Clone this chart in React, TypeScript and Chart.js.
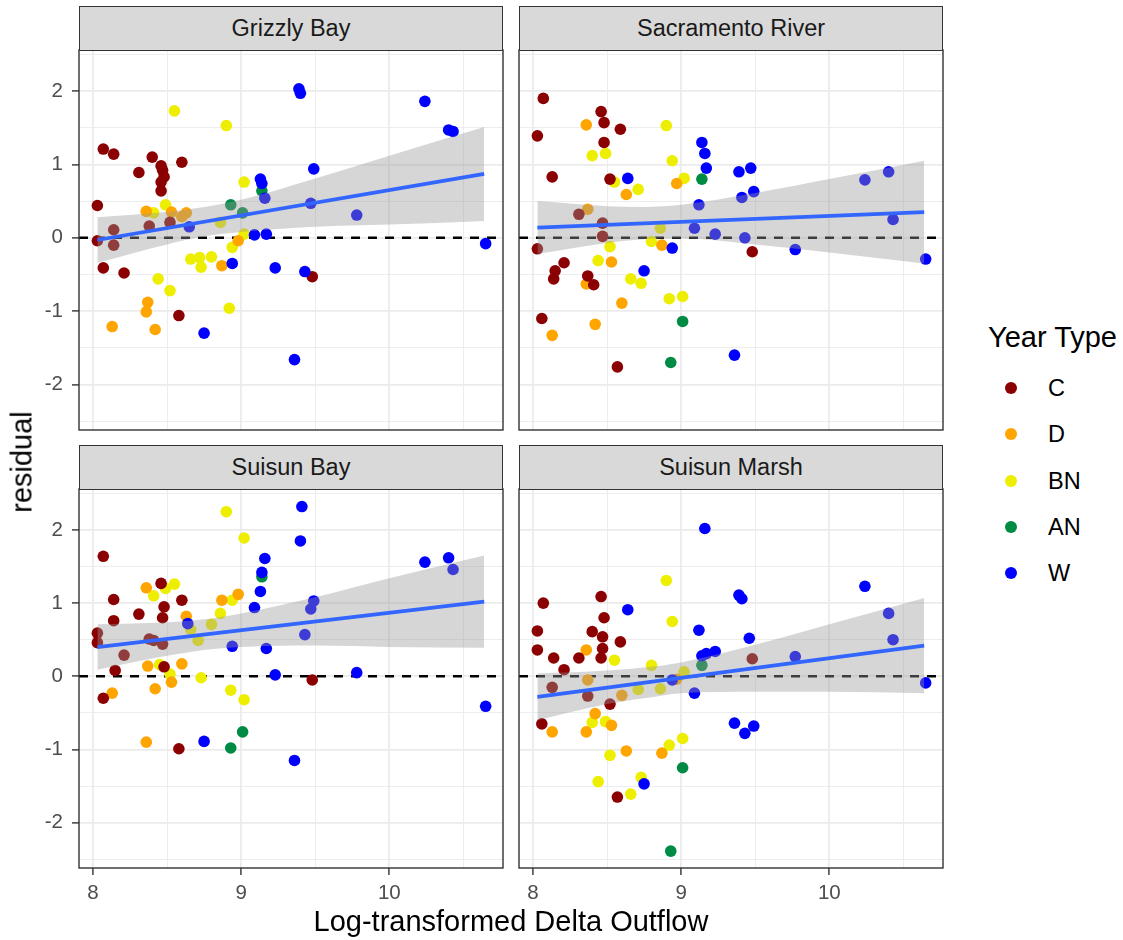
import React, { useEffect, useRef } from "react";
import { Chart, registerables } from "chart.js";

Chart.register(...registerables);

type YearType = "C" | "D" | "BN" | "AN" | "W";
type Obs = [number, number, YearType];

// Water-year types and their colours
const yearTypes: YearType[] = ["C", "D", "BN", "AN", "W"];
const yearTypeColors: string[] = ["#8B0000", "#FFA500", "#EEEE00", "#008B45", "#0000FF"];

// Facet titles
const regions: string[] = ["Grizzly Bay", "Sacramento River", "Suisun Bay", "Suisun Marsh"];

// Residuals by region: [log delta outflow, residual, year type]
const grizzlyBay: Obs[] = [
  [8.03, 0.44, "C"], [8.03, -0.04, "C"], [8.07, 1.21, "C"], [8.14, 1.14, "C"], [8.07, -0.41, "C"],
  [8.21, -0.48, "C"], [8.14, 0.11, "C"], [8.14, -0.1, "C"], [8.31, 0.89, "C"], [8.4, 1.1, "C"],
  [8.46, 0.98, "C"], [8.47, 0.92, "C"], [8.48, 0.83, "C"], [8.46, 0.76, "C"], [8.46, 0.64, "C"],
  [8.6, 1.03, "C"], [8.38, 0.16, "C"], [8.52, 0.21, "C"], [8.58, -1.06, "C"], [9.48, -0.53, "C"],
  [8.36, 0.36, "D"], [8.53, 0.35, "D"], [8.6, 0.29, "D"], [8.63, 0.34, "D"], [8.98, -0.04, "D"],
  [8.87, -0.38, "D"], [8.37, -0.88, "D"], [8.36, -1.01, "D"], [8.13, -1.21, "D"], [8.42, -1.25, "D"],
  [8.41, 0.34, "BN"], [8.49, 0.45, "BN"], [8.55, 1.73, "BN"], [8.9, 1.53, "BN"], [9.02, 0.76, "BN"],
  [8.86, 0.21, "BN"], [8.94, -0.13, "BN"], [9.02, 0.05, "BN"], [8.66, -0.29, "BN"], [8.72, -0.27, "BN"],
  [8.73, -0.4, "BN"], [8.8, -0.26, "BN"], [8.44, -0.56, "BN"], [8.52, -0.72, "BN"], [8.92, -0.96, "BN"],
  [8.93, 0.45, "AN"], [9.01, 0.34, "AN"], [9.14, 0.64, "AN"],
  [8.75, -1.3, "W"], [8.65, 0.15, "W"], [8.94, -0.35, "W"], [9.13, 0.8, "W"], [9.14, 0.74, "W"],
  [9.16, 0.54, "W"], [9.09, 0.04, "W"], [9.17, 0.05, "W"], [9.23, -0.41, "W"], [9.39, 2.03, "W"],
  [9.4, 1.97, "W"], [9.36, -1.66, "W"], [9.43, -0.46, "W"], [9.49, 0.94, "W"], [9.47, 0.47, "W"],
  [9.78, 0.31, "W"], [10.24, 1.86, "W"], [10.4, 1.47, "W"], [10.43, 1.45, "W"], [10.65, -0.08, "W"],
];

const sacramentoRiver: Obs[] = [
  [8.07, 1.9, "C"], [8.03, 1.39, "C"], [8.13, 0.83, "C"], [8.46, 1.72, "C"], [8.48, 1.57, "C"],
  [8.59, 1.48, "C"], [8.48, 1.3, "C"], [8.52, 0.8, "C"], [8.31, 0.32, "C"], [8.47, 0.2, "C"],
  [8.47, 0.02, "C"], [8.03, -0.15, "C"], [8.21, -0.34, "C"], [8.15, -0.45, "C"], [8.14, -0.56, "C"],
  [8.37, -0.52, "C"], [8.41, -0.64, "C"], [8.06, -1.1, "C"], [8.57, -1.76, "C"], [9.48, -0.19, "C"],
  [8.36, 1.54, "D"], [8.63, 0.59, "D"], [8.97, 0.74, "D"], [8.37, 0.39, "D"], [8.87, -0.1, "D"],
  [8.53, -0.33, "D"], [8.36, -0.63, "D"], [8.6, -0.89, "D"], [8.42, -1.18, "D"], [8.13, -1.33, "D"],
  [8.9, 1.53, "BN"], [8.4, 1.12, "BN"], [8.49, 1.15, "BN"], [8.94, 1.05, "BN"], [8.55, 0.76, "BN"],
  [8.71, 0.66, "BN"], [9.02, 0.81, "BN"], [8.86, 0.13, "BN"], [8.8, -0.05, "BN"], [8.52, -0.12, "BN"],
  [8.44, -0.31, "BN"], [8.66, -0.56, "BN"], [8.73, -0.62, "BN"], [8.92, -0.83, "BN"], [9.01, -0.8, "BN"],
  [9.14, 0.8, "AN"], [9.01, -1.14, "AN"], [8.93, -1.7, "AN"],
  [8.64, 0.81, "W"], [9.14, 1.3, "W"], [9.16, 1.15, "W"], [9.17, 0.95, "W"], [9.12, 0.45, "W"],
  [9.09, 0.13, "W"], [9.23, 0.05, "W"], [8.94, -0.14, "W"], [8.75, -0.45, "W"], [9.39, 0.9, "W"],
  [9.47, 0.95, "W"], [9.41, 0.55, "W"], [9.49, 0.63, "W"], [9.43, 0.0, "W"], [9.77, -0.16, "W"],
  [10.24, 0.79, "W"], [10.4, 0.9, "W"], [10.43, 0.25, "W"], [10.65, -0.29, "W"], [9.36, -1.6, "W"],
];

const suisunBay: Obs[] = [
  [8.03, 0.59, "C"], [8.03, 0.46, "C"], [8.07, 1.64, "C"], [8.14, 1.05, "C"], [8.14, 0.76, "C"],
  [8.31, 0.85, "C"], [8.46, 1.27, "C"], [8.48, 0.95, "C"], [8.47, 0.8, "C"], [8.6, 1.04, "C"],
  [8.21, 0.29, "C"], [8.38, 0.51, "C"], [8.41, 0.49, "C"], [8.47, 0.44, "C"], [8.15, 0.08, "C"],
  [8.48, 0.13, "C"], [8.07, -0.3, "C"], [8.58, -0.99, "C"], [9.48, -0.05, "C"],
  [8.36, 1.21, "D"], [8.63, 0.82, "D"], [8.87, 1.04, "D"], [8.98, 1.12, "D"], [8.37, 0.14, "D"],
  [8.6, 0.17, "D"], [8.53, -0.08, "D"], [8.42, -0.17, "D"], [8.13, -0.23, "D"], [8.36, -0.9, "D"],
  [8.9, 2.25, "BN"], [9.02, 1.89, "BN"], [8.41, 1.1, "BN"], [8.49, 1.2, "BN"], [8.55, 1.26, "BN"],
  [8.94, 1.04, "BN"], [8.86, 0.86, "BN"], [8.8, 0.71, "BN"], [8.66, 0.64, "BN"], [8.71, 0.49, "BN"],
  [8.45, 0.16, "BN"], [8.52, 0.03, "BN"], [8.73, -0.02, "BN"], [8.93, -0.19, "BN"], [9.02, -0.32, "BN"],
  [9.14, 1.36, "AN"], [9.01, -0.76, "AN"], [8.93, -0.98, "AN"],
  [9.16, 1.61, "W"], [9.14, 1.42, "W"], [9.13, 1.16, "W"], [9.09, 0.94, "W"], [8.64, 0.72, "W"],
  [8.94, 0.41, "W"], [9.17, 0.38, "W"], [9.23, 0.02, "W"], [8.75, -0.89, "W"], [9.36, -1.15, "W"],
  [9.41, 2.32, "W"], [9.4, 1.85, "W"], [9.49, 1.03, "W"], [9.47, 0.92, "W"], [9.43, 0.57, "W"],
  [9.78, 0.05, "W"], [10.24, 1.56, "W"], [10.4, 1.62, "W"], [10.43, 1.46, "W"], [10.65, -0.41, "W"],
];

const suisunMarsh: Obs[] = [
  [8.07, 1.0, "C"], [8.03, 0.62, "C"], [8.03, 0.36, "C"], [8.14, 0.25, "C"], [8.21, 0.09, "C"],
  [8.31, 0.25, "C"], [8.4, 0.61, "C"], [8.46, 1.09, "C"], [8.48, 0.8, "C"], [8.47, 0.54, "C"],
  [8.47, 0.38, "C"], [8.46, 0.25, "C"], [8.59, 0.47, "C"], [8.13, -0.15, "C"], [8.37, -0.27, "C"],
  [8.52, -0.38, "C"], [8.06, -0.65, "C"], [8.57, -1.65, "C"], [9.48, 0.24, "C"],
  [8.36, 0.36, "D"], [8.37, -0.05, "D"], [8.6, -0.26, "D"], [8.42, -0.51, "D"], [8.53, -0.67, "D"],
  [8.36, -0.76, "D"], [8.13, -0.76, "D"], [8.63, -1.02, "D"], [8.87, -1.05, "D"], [8.97, -0.04, "D"],
  [8.9, 1.31, "BN"], [8.94, 0.75, "BN"], [8.55, 0.22, "BN"], [8.8, 0.15, "BN"], [9.02, 0.06, "BN"],
  [8.71, -0.18, "BN"], [8.86, -0.17, "BN"], [8.4, -0.63, "BN"], [8.49, -0.62, "BN"], [9.01, -0.85, "BN"],
  [8.92, -0.94, "BN"], [8.52, -1.08, "BN"], [8.44, -1.44, "BN"], [8.73, -1.38, "BN"], [8.66, -1.61, "BN"],
  [9.14, 0.15, "AN"], [9.01, -1.25, "AN"], [8.93, -2.39, "AN"],
  [8.64, 0.91, "W"], [9.16, 2.02, "W"], [9.12, 0.63, "W"], [9.14, 0.28, "W"], [9.17, 0.31, "W"],
  [9.23, 0.34, "W"], [8.94, -0.05, "W"], [9.09, -0.23, "W"], [8.75, -1.47, "W"], [9.39, 1.11, "W"],
  [9.41, 1.06, "W"], [9.46, 0.52, "W"], [9.36, -0.64, "W"], [9.43, -0.78, "W"], [9.49, -0.68, "W"],
  [9.77, 0.27, "W"], [10.24, 1.23, "W"], [10.4, 0.86, "W"], [10.43, 0.5, "W"], [10.65, -0.09, "W"],
];

// Linear fits (end points) and their confidence bands
const fitX: number[] = [8.03, 10.64];
const grizzlyFit: number[] = [-0.03, 0.87];
const sacramentoFit: number[] = [0.14, 0.35];
const suisunBayFit: number[] = [0.4, 1.02];
const suisunMarshFit: number[] = [-0.28, 0.42];

const bandX: number[] = [8.03, 8.5, 8.75, 9.0, 9.5, 10.0, 10.64];
const grizzlyUpper: number[] = [0.28, 0.35, 0.42, 0.52, 0.81, 1.12, 1.51];
const grizzlyLower: number[] = [-0.34, -0.09, 0.02, 0.08, 0.15, 0.18, 0.23];
const sacramentoUpper: number[] = [0.5, 0.43, 0.42, 0.45, 0.61, 0.8, 1.05];
const sacramentoLower: number[] = [-0.22, -0.07, -0.02, -0.01, -0.09, -0.2, -0.35];
const suisunBayUpper: number[] = [0.71, 0.74, 0.78, 0.86, 1.08, 1.34, 1.65];
const suisunBayLower: number[] = [0.09, 0.28, 0.36, 0.4, 0.42, 0.4, 0.39];
const suisunMarshUpper: number[] = [0.04, 0.08, 0.12, 0.19, 0.43, 0.71, 1.07];
const suisunMarshLower: number[] = [-0.6, -0.38, -0.3, -0.23, -0.21, -0.21, -0.23];

// Axis grid positions (major at whole numbers, minor halfway)
const xGridValues: number[] = [8, 8.5, 9, 9.5, 10, 10.5];
const yGridValues: number[] = [-2.5, -2, -1.5, -1, -0.5, 0, 0.5, 1, 1.5, 2, 2.5];
const X_MIN = 7.906;
const X_MAX = 10.767;
const Y_MIN = -2.62;
const Y_MAX = 2.56;

const FONT = "'Liberation Sans', Arial, Helvetica, sans-serif";

interface PanelSpec {
  title: string;
  obs: Obs[];
  fit: number[];
  upper: number[];
  lower: number[];
  showX: boolean;
  showY: boolean;
  left: number;
  top: number;
  width: number;
  height: number;
}

const Y_AXIS_W = 79;
const X_AXIS_H = 45;

const panels: PanelSpec[] = [
  { title: regions[0], obs: grizzlyBay, fit: grizzlyFit, upper: grizzlyUpper, lower: grizzlyLower,
    showX: false, showY: true, left: 0, top: 48, width: 505, height: 384 },
  { title: regions[1], obs: sacramentoRiver, fit: sacramentoFit, upper: sacramentoUpper, lower: sacramentoLower,
    showX: false, showY: false, left: 517, top: 48, width: 428, height: 384 },
  { title: regions[2], obs: suisunBay, fit: suisunBayFit, upper: suisunBayUpper, lower: suisunBayLower,
    showX: true, showY: true, left: 0, top: 487, width: 505, height: 426 },
  { title: regions[3], obs: suisunMarsh, fit: suisunMarshFit, upper: suisunMarshUpper, lower: suisunMarshLower,
    showX: true, showY: false, left: 517, top: 487, width: 428, height: 426 },
];

const panelFrame = {
  id: "panelFrame",
  afterDatasetsDraw(chart: any) {
    const { ctx, chartArea: a } = chart;
    ctx.save();
    ctx.strokeStyle = "#333333";
    ctx.lineWidth = 1.4;
    ctx.strokeRect(a.left, a.top, a.right - a.left, a.bottom - a.top);
    ctx.restore();
  },
};

const isMajor = (c: any) => !!c.tick && Number.isInteger(c.tick.value);

function gridOptions(showTicks: boolean) {
  return {
    color: "#EBEBEB",
    lineWidth: (c: any) => (isMajor(c) ? 1.8 : 0.9),
    drawTicks: showTicks,
    tickLength: 7,
    tickWidth: 1.4,
    tickColor: (c: any) => (isMajor(c) ? "#333333" : "rgba(0,0,0,0)"),
  };
}

function buildConfig(p: PanelSpec): any {
  const pointSets = [4, 0, 1, 2, 3].map((ti) => ({
    label: yearTypes[ti],
    data: p.obs.filter((o) => o[2] === yearTypes[ti]).map((o) => ({ x: o[0], y: o[1] })),
    showLine: false,
    pointRadius: 5.8,
    pointHoverRadius: 5.8,
    pointBorderWidth: 0,
    pointBackgroundColor: yearTypeColors[ti],
    backgroundColor: yearTypeColors[ti],
    borderWidth: 0,
  }));

  const lineBase = { showLine: true, pointRadius: 0, pointHoverRadius: 0 };

  return {
    type: "scatter",
    data: {
      datasets: [
        {
          ...lineBase,
          label: "fit",
          data: fitX.map((x, i) => ({ x, y: p.fit[i] })),
          borderColor: "#3366FF",
          borderWidth: 3.8,
          borderCapStyle: "butt",
        },
        {
          ...lineBase,
          label: "upper",
          data: bandX.map((x, i) => ({ x, y: p.upper[i] })),
          borderWidth: 0,
          borderColor: "rgba(0,0,0,0)",
          backgroundColor: "rgba(153,153,153,0.4)",
          fill: "+1",
          cubicInterpolationMode: "monotone",
        },
        {
          ...lineBase,
          label: "lower",
          data: bandX.map((x, i) => ({ x, y: p.lower[i] })),
          borderWidth: 0,
          borderColor: "rgba(0,0,0,0)",
          fill: false,
          cubicInterpolationMode: "monotone",
        },
        ...pointSets,
        {
          ...lineBase,
          label: "zero",
          data: [{ x: X_MIN, y: 0 }, { x: X_MAX, y: 0 }],
          borderColor: "#000000",
          borderWidth: 2.6,
          borderDash: [9, 8],
        },
      ],
    },
    options: {
      responsive: false,
      animation: false,
      events: [],
      layout: {
        autoPadding: false,
        padding: { top: 2, right: 2, bottom: p.showX ? 0 : 2, left: p.showY ? 0 : 2 },
      },
      plugins: { legend: { display: false }, tooltip: { enabled: false } },
      scales: {
        x: {
          type: "linear",
          min: X_MIN,
          max: X_MAX,
          afterBuildTicks: (s: any) => {
            s.ticks = xGridValues.map((v) => ({ value: v }));
          },
          afterFit: (s: any) => {
            s.height = p.showX ? X_AXIS_H : 0;
            s.paddingLeft = 0; s.paddingRight = 0; s.paddingTop = 0; s.paddingBottom = 0;
          },
          grid: gridOptions(p.showX),
          border: { display: false },
          ticks: {
            display: p.showX,
            autoSkip: false,
            maxRotation: 0,
            padding: 6,
            color: "#4D4D4D",
            font: { family: FONT, size: 20.5 },
            callback: (v: number) => (Number.isInteger(v) ? String(v) : ""),
          },
        },
        y: {
          type: "linear",
          min: Y_MIN,
          max: Y_MAX,
          afterBuildTicks: (s: any) => {
            s.ticks = yGridValues.map((v) => ({ value: v }));
          },
          afterFit: (s: any) => {
            s.width = p.showY ? Y_AXIS_W : 0;
            s.paddingLeft = 0; s.paddingRight = 0; s.paddingTop = 0; s.paddingBottom = 0;
          },
          grid: gridOptions(p.showY),
          border: { display: false },
          ticks: {
            display: p.showY,
            autoSkip: false,
            padding: 9,
            color: "#4D4D4D",
            font: { family: FONT, size: 20.5 },
            callback: (v: number) => (Number.isInteger(v) ? String(v) : ""),
          },
        },
      },
    },
    plugins: [panelFrame],
  };
}

function Panel({ spec }: { spec: PanelSpec }) {
  const ref = useRef<HTMLCanvasElement>(null);
  useEffect(() => {
    if (!ref.current) return;
    const chart = new Chart(ref.current, buildConfig(spec));
    return () => chart.destroy();
  }, [spec]);
  return (
    <canvas
      ref={ref}
      width={spec.width}
      height={spec.height}
      style={{ position: "absolute", left: spec.left, top: spec.top, width: spec.width, height: spec.height }}
    />
  );
}

const strips = [
  { left: 79, top: 6 },
  { left: 519, top: 6 },
  { left: 79, top: 445 },
  { left: 519, top: 445 },
];

export default function App() {
  return (
    <div
      style={{
        position: "absolute",
        left: 0,
        top: 0,
        width: 1123,
        height: 940,
        background: "#FFFFFF",
        fontFamily: FONT,
        overflow: "hidden",
      }}
    >
      {panels.map((p) => (
        <Panel key={p.title} spec={p} />
      ))}
      {panels.map((p, i) => (
        <div
          key={"strip-" + p.title}
          style={{
            position: "absolute",
            left: strips[i].left,
            top: strips[i].top,
            width: 424,
            height: 45,
            boxSizing: "border-box",
            border: "1px solid #333333",
            background: "#D9D9D9",
            color: "#1A1A1A",
            fontSize: 23.5,
            display: "flex",
            alignItems: "center",
            justifyContent: "center",
            whiteSpace: "nowrap",
          }}
        >
          {p.title}
        </div>
      ))}
      <div
        style={{
          position: "absolute",
          left: 22,
          top: 462,
          transform: "translate(-50%, -50%) rotate(-90deg)",
          fontSize: 29,
          color: "#000000",
          whiteSpace: "nowrap",
        }}
      >
        residual
      </div>
      <div
        style={{
          position: "absolute",
          left: 511,
          top: 921,
          transform: "translate(-50%, -50%)",
          fontSize: 29,
          color: "#000000",
          whiteSpace: "nowrap",
        }}
      >
        Log-transformed Delta Outflow
      </div>
      <div
        style={{
          position: "absolute",
          left: 988,
          top: 337,
          transform: "translateY(-50%)",
          fontSize: 29,
          color: "#000000",
          whiteSpace: "nowrap",
        }}
      >
        Year Type
      </div>
      {yearTypes.map((t, i) => {
        const cy = 388 + i * 46.25;
        return (
          <React.Fragment key={t}>
            <div
              style={{
                position: "absolute",
                left: 1005,
                top: cy - 6,
                width: 12,
                height: 12,
                borderRadius: "50%",
                background: yearTypeColors[i],
              }}
            />
            <div
              style={{
                position: "absolute",
                left: 1048,
                top: cy,
                transform: "translateY(-50%)",
                fontSize: 23.5,
                color: "#000000",
                whiteSpace: "nowrap",
              }}
            >
              {t}
            </div>
          </React.Fragment>
        );
      })}
    </div>
  );
}
